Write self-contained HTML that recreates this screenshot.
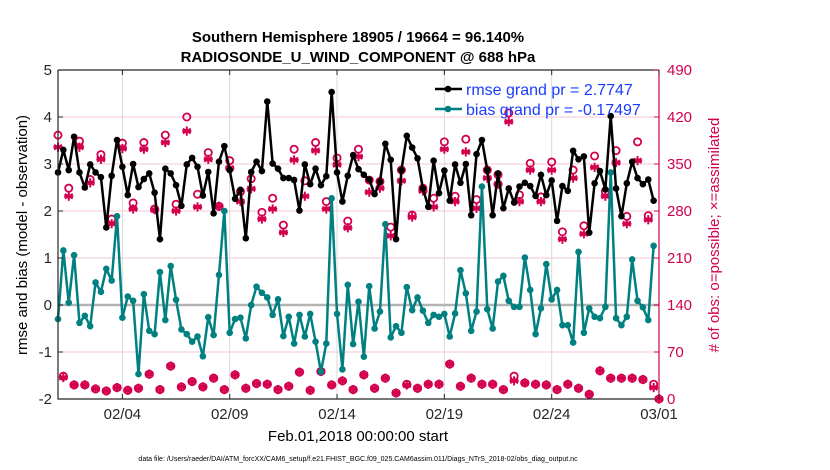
<!DOCTYPE html>
<html><head><meta charset="utf-8"><style>
html,body{margin:0;padding:0;background:#fff;}
svg{display:block;font-family:"Liberation Sans",Arial,sans-serif;}
</style></head><body>
<svg id="chart" width="830" height="470" viewBox="0 0 830 470">
<rect width="830" height="470" fill="#fff"/>
<text x="358" y="42" font-size="15" font-weight="bold" text-anchor="middle">Southern Hemisphere 18905 / 19664 = 96.140%</text>
<text x="358" y="62" font-size="15" font-weight="bold" text-anchor="middle">RADIOSONDE_U_WIND_COMPONENT @ 688 hPa</text>
<g id="grid"></g>
<g id="marks"></g>
<g id="axes"></g>
<text x="358" y="441" font-size="15" text-anchor="middle">Feb.01,2018 00:00:00 start</text>
<text x="358" y="461" font-size="7" text-anchor="middle">data file: /Users/raeder/DAI/ATM_forcXX/CAM6_setup/f.e21.FHIST_BGC.f09_025.CAM6assim.011/Diags_NTrS_2018-02/obs_diag_output.nc</text>
<text transform="translate(27,235) rotate(-90)" font-size="15" text-anchor="middle">rmse and bias (model - observation)</text>
<text transform="translate(719,235) rotate(-90)" font-size="15" text-anchor="middle" fill="#d3004f"># of obs: o=possible; ×=assimilated</text>
<g>
<line x1="435" y1="89" x2="462" y2="89" stroke="#000" stroke-width="2.5"/>
<circle cx="448" cy="89" r="3.3" fill="#000"/>
<text x="466" y="95" font-size="16" fill="#1a3cff">rmse grand pr = 2.7747</text>
<line x1="435" y1="109" x2="462" y2="109" stroke="#008080" stroke-width="2.5"/>
<circle cx="448" cy="109" r="3.3" fill="#008080"/>
<text x="466" y="115" font-size="16" fill="#1a3cff">bias grand pr = -0.17497</text>
</g>
</svg>
<script>
const rmse=[2.82,3.30,2.87,3.58,2.82,2.50,2.99,2.82,2.72,1.65,2.75,3.51,2.94,2.34,3.00,2.51,2.68,2.80,2.39,1.40,2.90,2.80,2.55,2.11,2.99,3.13,2.94,2.33,2.83,1.95,3.05,3.38,2.87,2.26,2.45,1.42,2.83,3.05,
2.85,4.33,3.01,2.90,2.70,2.70,2.66,2.01,2.99,2.57,2.90,2.55,2.74,4.53,2.82,2.20,2.75,3.19,2.89,2.77,2.67,2.36,2.62,3.43,3.09,1.40,2.87,3.60,3.35,3.12,2.48,2.09,3.07,2.38,2.86,2.22,2.99,2.60,
3.00,1.91,3.21,3.51,2.87,1.91,2.80,2.06,2.48,2.18,2.52,2.60,2.53,2.32,2.77,2.34,2.65,1.79,2.53,2.43,3.28,3.10,3.16,1.54,2.59,2.85,2.46,4.02,2.48,1.89,2.59,3.05,2.70,2.57,2.67,2.22];
const bias=[-0.30,1.16,0.05,1.06,-0.38,-0.23,-0.45,0.48,0.28,0.77,0.52,1.89,-0.27,0.18,0.09,-1.47,0.23,-0.55,-0.62,0.70,-0.32,0.83,0.11,-0.52,-0.62,-0.78,-0.67,-1.09,-0.26,-0.64,0.64,2.00,-0.59,-0.30,-0.27,-0.71,0.00,0.39,
0.26,0.16,-0.21,0.12,-0.66,-0.25,-0.82,-0.21,-0.67,-0.19,-0.78,-1.42,-0.82,2.27,-0.19,-1.37,0.43,-0.83,0.07,-1.10,0.40,-0.50,-0.14,1.72,-0.69,-0.45,-0.59,0.38,-0.11,0.16,-0.12,-0.38,-0.21,-0.25,-0.19,-0.67,-0.18,0.74,
0.25,-0.55,-0.14,2.52,-0.09,-0.50,0.50,0.62,0.09,-0.04,-0.04,1.01,0.32,-0.62,-0.07,0.87,0.12,0.32,-0.43,-0.43,-0.80,1.13,-0.59,-0.07,-0.25,-0.28,-0.04,2.82,-0.28,-0.43,-0.25,0.97,0.09,-0.05,-0.32,1.26];
const possible=[393,34,314,21,384,21,327,15,364,12,268,17,381,13,292,16,382,37,283,14,393,49,290,18,420,26,305,18,367,31,287,14,355,36,309,16,328,23,
278,22,299,14,259,19,372,40,325,13,382,41,294,21,359,27,265,14,372,36,326,16,324,31,256,9,341,22,274,16,314,22,299,22,383,52,302,19,
387,31,297,22,341,22,334,14,426,34,304,24,351,22,301,21,353,14,249,22,341,16,258,7,362,42,309,31,370,31,272,31,383,29,273,22,0];
const assimilated=[375,32,302,21,375,21,322,15,357,12,261,17,373,13,283,16,372,37,282,14,382,49,280,18,399,26,286,18,357,31,287,14,344,36,294,16,313,23,
268,22,283,14,248,19,356,40,302,13,370,41,283,21,349,27,255,14,361,36,308,16,314,31,243,9,325,21,271,16,310,22,286,22,372,52,294,19,
368,31,284,22,329,22,320,14,413,27,294,24,341,22,294,21,341,14,238,22,329,16,246,7,345,42,302,31,352,31,261,31,355,29,267,17,0];
const dateTicks=["02/04","02/09","02/14","02/19","02/24","03/01"];
const tickDays=[3,8,13,18,23,28];
const leftTicks=[-2,-1,0,1,2,3,4,5];
const rightTicks=[0,70,140,210,280,350,420,490];

const NS="http://www.w3.org/2000/svg";
const X0=58,X1=659,Y0=399,Y1=70;
function xDay(d){return X0+(X1-X0)*d/28;}
function xIdx(i){return xDay(i*0.25);}
function yL(v){return Y0-(Y0-Y1)*(v+2)/7;}
function yR(c){return Y0-(Y0-Y1)*c/490;}
function mk(tag,attrs,parent){const e=document.createElementNS(NS,tag);for(const k in attrs)e.setAttribute(k,attrs[k]);parent.appendChild(e);return e;}
const grid=document.getElementById('grid'),marks=document.getElementById('marks'),axes=document.getElementById('axes');
const RED="#d3004f";

rightTicks.forEach(function(c){
  if(c===0||c===490)return;
  const g=mk('line',{x1:X0,x2:X1,y1:yR(c),y2:yR(c),stroke:"#f3c6d6","stroke-width":1},grid);
  
  
});
tickDays.forEach(function(d){
  const g=mk('line',{x1:xDay(d),x2:xDay(d),y1:Y1,y2:Y0,stroke:"#d9d9d9","stroke-width":1},grid);
  
  
});
const zl=mk('line',{x1:X0,x2:X1,y1:yL(0),y2:yL(0),stroke:"#b3b3b3","stroke-width":2.5},grid);



function asterisk(cx,cy,parent){
  const g=mk('g',{stroke:RED,"stroke-width":2},parent);
  
  
  const r=4.6;
  for(let a=0;a<3;a++){const t=a*Math.PI/3+Math.PI/2;mk('line',{x1:cx-r*Math.cos(t),y1:cy-r*Math.sin(t),x2:cx+r*Math.cos(t),y2:cy+r*Math.sin(t)},g);}
  mk('line',{x1:cx-r,y1:cy,x2:cx+r,y2:cy},g);
  mk('circle',{cx:cx,cy:cy,r:2.2,fill:RED,stroke:"none"},g);
}
possible.forEach(function(c,i){
  const ci=mk('circle',{cx:xIdx(i),cy:yR(c),r:3.6,fill:"none",stroke:RED,"stroke-width":1.8},marks);
  
  
});
assimilated.forEach(function(c,i){asterisk(xIdx(i),yR(c),marks);});

function series(vals,color,name){
  let d="";
  vals.forEach(function(v,i){d+=(i?"L":"M")+xIdx(i).toFixed(2)+","+yL(v).toFixed(2);});
  const p=mk('path',{d:d,fill:"none",stroke:color,"stroke-width":2.5,"stroke-linejoin":"round"},marks);
  
  
  vals.forEach(function(v,i){
    const c=mk('circle',{cx:xIdx(i),cy:yL(v),r:3.3,fill:color},marks);
    
    
  });
}
series(bias,"#008080","bias");
series(rmse,"#000000","rmse");

const ax=mk('path',{d:"M"+X0+","+Y1+"L"+X0+","+Y0+"L"+X1+","+Y0,fill:"none",stroke:"#262626","stroke-width":1.2},axes);


const tl=mk('line',{x1:X0,x2:X1,y1:Y1,y2:Y1,stroke:"#262626","stroke-width":1.2},axes);


const ra=mk('line',{x1:X1,x2:X1,y1:Y1,y2:Y0,stroke:RED,"stroke-width":1.2},axes);


leftTicks.forEach(function(v){
  mk('line',{x1:X0,x2:X0+5,y1:yL(v),y2:yL(v),stroke:"#262626"},axes);
  const t=mk('text',{x:X0-6,y:yL(v)+5,"font-size":15,"text-anchor":"end",fill:"#262626"},axes);
  t.textContent=v;
  
  
});
rightTicks.forEach(function(c){
  mk('line',{x1:X1,x2:X1-5,y1:yR(c),y2:yR(c),stroke:RED},axes);
  const t=mk('text',{x:X1+8,y:yR(c)+5,"font-size":15,fill:RED},axes);
  t.textContent=c;
  
  
});
dateTicks.forEach(function(lbl,k){
  const x=xDay(tickDays[k]);
  mk('line',{x1:x,x2:x,y1:Y0,y2:Y0-5,stroke:"#262626"},axes);
  mk('line',{x1:x,x2:x,y1:Y1,y2:Y1+5,stroke:"#262626"},axes);
  const t=mk('text',{x:x,y:Y0+20,"font-size":15,"text-anchor":"middle",fill:"#262626"},axes);
  t.textContent=lbl;
  
  
});
</script>
</body></html>
